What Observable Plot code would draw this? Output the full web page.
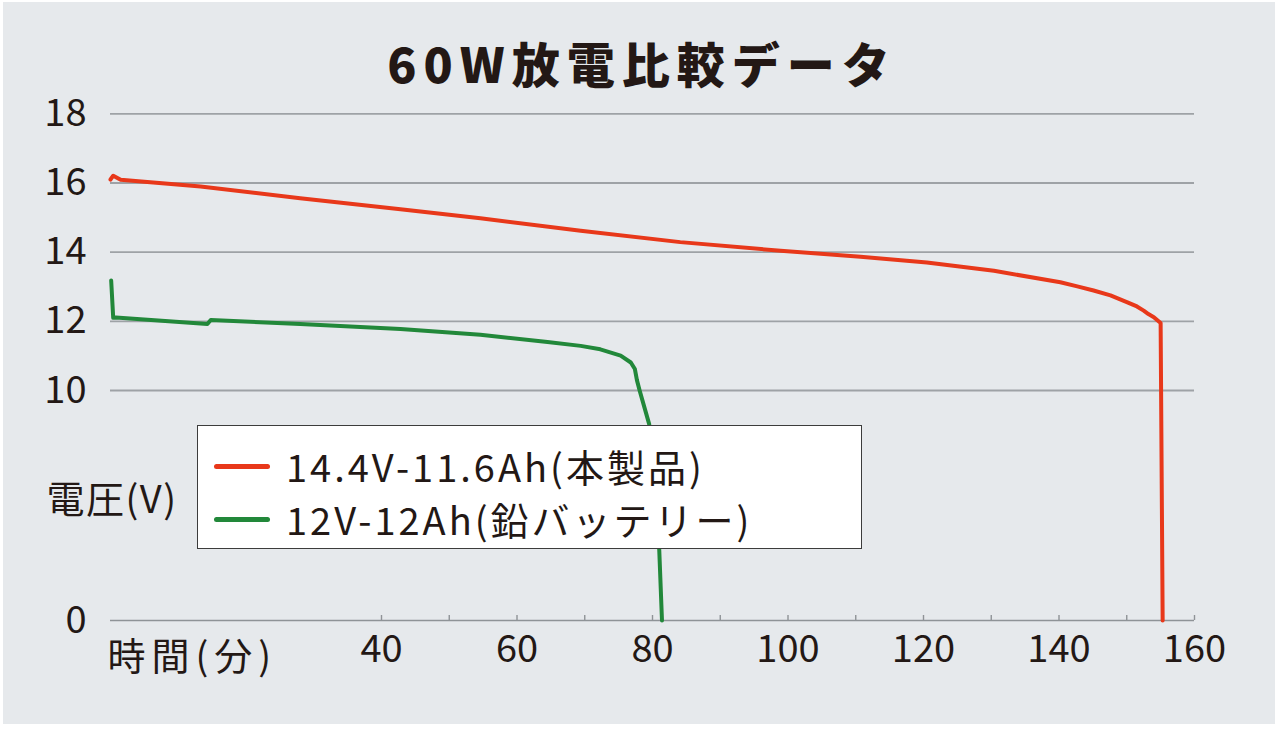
<!DOCTYPE html>
<html>
<head>
<meta charset="utf-8">
<script src="https://cdn.jsdelivr.net/npm/d3@7"></script>
<script src="https://cdn.jsdelivr.net/npm/@observablehq/plot@0.6"></script>
<style>
  html, body { margin: 0; padding: 0; background: #ffffff; }
  #wrap { position: relative; width: 1280px; height: 731px; overflow: hidden; font-family: "Noto Sans CJK JP", "Noto Sans", sans-serif; color: #231815; }
  #panel { position: absolute; left: 3px; top: 2px; width: 1272px; height: 722px; background: #e6e9ec; }
  #title { position: relative; height: 95px; box-sizing: border-box; padding-top: 38px; padding-left: 4px; text-align: center; font-size: 48px; line-height: 1; font-weight: 900; letter-spacing: 7px; }
  #chart { position: relative; }
  #chart g.xtitle text { letter-spacing: 6px; }
  #chart g.ytitle text { letter-spacing: 1.5px; }
  #legend { position: absolute; left: 197px; top: 425px; width: 663px; height: 122px; background: #ffffff; border: 1.6px solid #3c3c3c; }
  .row { position: absolute; left: 0; height: 50px; display: flex; align-items: center; }
  .sw { width: 56px; height: 5px; border-radius: 3px; margin-left: 16px; margin-right: 16px; }
  .lab { font-size: 38px; line-height: 50px; letter-spacing: 3px; white-space: nowrap; }
</style>
</head>
<body>
<div id="wrap">
  <div id="panel"></div>
  <div id="title"></div>
  <div id="chart"></div>
  <div id="legend"></div>
</div>
<script>
// ---- chart text ----
const chartTitle = "60W放電比較データ";
const xTitle = "時間(分)";
const yTitle = "電圧(V)";

// ---- series ----
const seriesNames = ["14.4V-11.6Ah(本製品)", "12V-12Ah(鉛バッテリー)"];
const seriesColors = ["#e8381a", "#22883a"];

// 14.4V-11.6Ah (product): time (min) and voltage (V)
const redT = [0, 0.4, 1.5, 13.3, 28.0, 42.8, 54.6, 69.4, 84.1, 98.9, 110.7, 120.5, 130.4, 140.2, 142.7, 145.1, 147.6, 150.1, 151.5, 152.5, 153.2, 154.0, 155.0, 155.3];
const redV = [16.10, 16.21, 16.09, 15.90, 15.56, 15.24, 14.98, 14.62, 14.29, 14.04, 13.87, 13.70, 13.46, 13.13, 13.01, 12.89, 12.75, 12.55, 12.43, 12.31, 12.21, 12.12, 11.95, 0];

// 12V-12Ah (lead battery)
const greenT = [0.1, 0.4, 0.8, 14.3, 14.8, 28.0, 42.8, 54.6, 64.5, 69.4, 72.3, 75.3, 76.8, 77.4, 77.7, 78.1, 79.5, 80.5, 81.0, 81.4];
const greenV = [13.18, 12.10, 12.11, 11.92, 12.04, 11.92, 11.78, 11.61, 11.40, 11.29, 11.19, 11.01, 10.81, 10.62, 10.30, 10.00, 8.55, 6.1, 3.04, 0];

// ---- ticks ----
const xTickLabels = [40, 60, 80, 100, 120, 140, 160];
const xMinorTicks = [40, 50, 60, 70, 80, 90, 100, 110, 120, 130, 140, 150, 160];
const yTickLabels = [0, 10, 12, 14, 16, 18];
const yGridLines = [10, 12, 14, 16, 18];

// ---- build table ----
const table = [];
redT.forEach((t, i) => table.push({series: seriesNames[0], t, v: redV[i]}));
greenT.forEach((t, i) => table.push({series: seriesNames[1], t, v: greenV[i]}));

document.getElementById("title").textContent = chartTitle;

const axisGray = "#8f9397";
const tickLenV = 5 / 23; // ~5px in the lower (0–10 V) segment

const chart = Plot.plot({
  width: 1280,
  height: 636,
  marginLeft: 110,
  marginRight: 86,
  marginTop: 18,
  marginBottom: 111,
  style: {fontFamily: "'Noto Sans CJK JP', 'Noto Sans', sans-serif", background: "transparent", color: "#231815", overflow: "visible"},
  x: {domain: [0, 160]},
  y: {type: "linear", domain: [0, 10, 18], range: [525, 295, 18.3]},
  color: {domain: seriesNames, range: seriesColors},
  marks: [
    Plot.gridY({ticks: yGridLines, stroke: "#9ea2a6", strokeOpacity: 1, strokeWidth: 1.8}),
    Plot.ruleY([0], {stroke: axisGray, strokeWidth: 1.6}),
    Plot.ruleX(xMinorTicks, {x: d => d, y1: 0, y2: tickLenV, stroke: axisGray, strokeWidth: 1.4}),
    Plot.axisY({ticks: yTickLabels, tickSize: 0, tickPadding: 24, fontSize: 38, label: null, tickFormat: d => String(d)}),
    Plot.axisX({ticks: xTickLabels, tickSize: 0, tickPadding: 15, fontSize: 38, label: null, tickFormat: d => String(d)}),
    Plot.text([xTitle], {frameAnchor: "bottom-left", text: d => d, dx: -3, dy: 37, textAnchor: "start", lineAnchor: "middle", fontSize: 38}),
    Plot.text([yTitle], {frameAnchor: "bottom-left", text: d => d, dx: -64, dy: -120, textAnchor: "start", lineAnchor: "middle", fontSize: 38}),
    Plot.line(table.filter(d => d.series === seriesNames[1]), {x: "t", y: "v", stroke: "series", strokeWidth: 4, strokeLinejoin: "round", strokeLinecap: "round"}),
    Plot.line(table.filter(d => d.series === seriesNames[0]), {x: "t", y: "v", stroke: "series", strokeWidth: 4, strokeLinejoin: "round", strokeLinecap: "round"})
  ]
});
// tag the two axis-title text groups for letter spacing
const textGroups = chart.querySelectorAll('g[aria-label="text"]');
if (textGroups[0]) textGroups[0].classList.add("xtitle");
if (textGroups[1]) textGroups[1].classList.add("ytitle");
document.getElementById("chart").appendChild(chart);

// ---- legend (HTML overlay) ----
const legend = document.getElementById("legend");
const rowCenters = [40, 93];
seriesNames.forEach((name, i) => {
  const row = document.createElement("div");
  row.className = "row";
  row.style.top = (rowCenters[i] - 25) + "px";
  const sw = document.createElement("div");
  sw.className = "sw";
  sw.style.background = seriesColors[i];
  const lab = document.createElement("div");
  lab.className = "lab";
  lab.textContent = name;
  row.appendChild(sw);
  row.appendChild(lab);
  legend.appendChild(row);
});
</script>
</body>
</html>
